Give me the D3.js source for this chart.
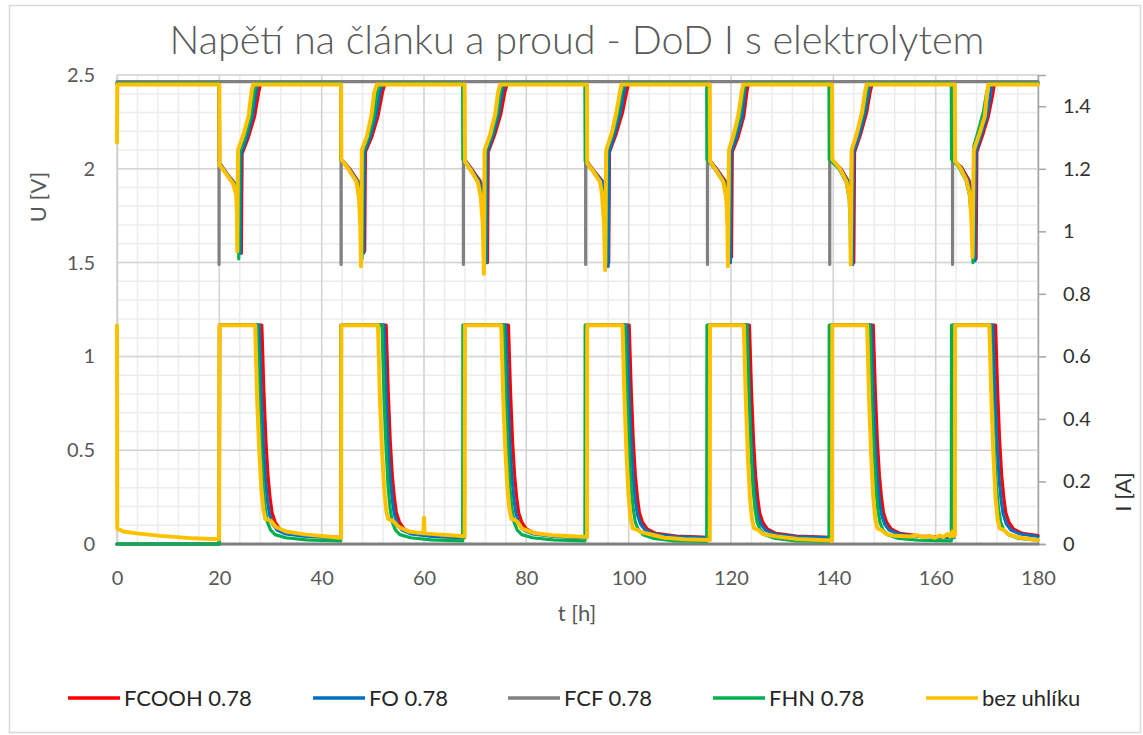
<!DOCTYPE html>
<html>
<head>
<meta charset="utf-8">
<script src="https://cdn.jsdelivr.net/npm/d3@7"></script>
<style>
  body { margin: 0; background: #fff; }
  text { font-family: Lato, "Open Sans", sans-serif; }
</style>
</head>
<body>
<svg id="chart" width="1143" height="735"></svg>
<script>
// ---- data ----
const seriesNames = ["FCOOH 0.78", "FO 0.78", "FCF 0.78", "FHN 0.78", "bez uhlíku"];
const xTicks = [0, 20, 40, 60, 80, 100, 120, 140, 160, 180];
const uTicks = [0, 0.5, 1, 1.5, 2, 2.5];
const iTicks = [0, 0.2, 0.4, 0.6, 0.8, 1, 1.2, 1.4];

// voltage [t h, U V]
const uFcooh = [[0, 2.455],
  [20.0, 2.455], [20.05, 2.03], [21.6, 1.97], [23.1, 1.92], [23.9, 1.86], [24.15, 1.72], [24.3, 1.55], [24.45, 2.08], [25.7, 2.17], [26.9, 2.28], [27.7, 2.41], [28.1, 2.455],
  [43.8, 2.455], [43.85, 2.05], [45.5, 2.0], [47.2, 1.93], [47.9, 1.84], [48.2, 1.70], [48.4, 1.56], [48.55, 2.09], [49.8, 2.17], [51.0, 2.28], [51.9, 2.41], [52.4, 2.455],
  [67.85, 2.455], [67.9, 2.05], [69.3, 2.0], [71.1, 1.93], [71.8, 1.85], [72.2, 1.70], [72.4, 1.50], [72.55, 2.09], [73.8, 2.18], [75.0, 2.29], [75.8, 2.41], [76.3, 2.455],
  [91.75, 2.455], [91.8, 2.04], [93.2, 1.99], [95.0, 1.93], [95.6, 1.86], [95.9, 1.70], [96.1, 1.50], [96.25, 2.09], [97.6, 2.19], [98.8, 2.30], [99.6, 2.41], [100.0, 2.455],
  [115.65, 2.455], [115.7, 2.05], [117.2, 2.0], [119.0, 1.93], [119.6, 1.84], [119.9, 1.70], [120.1, 1.53], [120.25, 2.09], [121.4, 2.17], [122.5, 2.28], [123.1, 2.41], [123.4, 2.455],
  [139.55, 2.455], [139.6, 2.05], [141.5, 2.0], [143.0, 1.93], [143.7, 1.84], [143.9, 1.70], [144.0, 1.50], [144.15, 2.09], [145.4, 2.19], [146.5, 2.30], [147.2, 2.41], [147.6, 2.455],
  [163.55, 2.455], [163.6, 2.04], [165.0, 2.01], [166.5, 1.94], [167.2, 1.86], [167.7, 1.70], [167.9, 1.52], [168.05, 2.09], [169.3, 2.19], [170.3, 2.28], [171.1, 2.39], [171.5, 2.455],
  [180, 2.455]];

const uFo = [[0, 2.455],
  [20.0, 2.455], [20.05, 2.03], [21.5, 1.97], [23.0, 1.92], [23.7, 1.86], [23.95, 1.72], [24.1, 1.55], [24.25, 2.08], [25.4, 2.17], [26.5, 2.28], [27.2, 2.41], [27.6, 2.455],
  [43.8, 2.455], [43.85, 2.05], [45.4, 2.0], [47.1, 1.93], [47.7, 1.84], [48.0, 1.70], [48.2, 1.55], [48.35, 2.09], [49.5, 2.17], [50.6, 2.28], [51.4, 2.41], [52.0, 2.455],
  [67.85, 2.455], [67.9, 2.05], [69.2, 2.0], [70.9, 1.93], [71.6, 1.85], [72.0, 1.70], [72.2, 1.50], [72.35, 2.09], [73.5, 2.18], [74.6, 2.29], [75.3, 2.41], [75.8, 2.455],
  [91.75, 2.455], [91.8, 2.04], [93.1, 1.99], [94.9, 1.93], [95.4, 1.86], [95.8, 1.70], [96.0, 1.48], [96.15, 2.09], [97.3, 2.19], [98.4, 2.30], [99.1, 2.41], [99.5, 2.455],
  [115.65, 2.455], [115.7, 2.05], [117.1, 2.0], [118.8, 1.93], [119.4, 1.84], [119.7, 1.70], [119.9, 1.50], [120.05, 2.09], [121.1, 2.17], [122.2, 2.28], [122.7, 2.41], [123.0, 2.455],
  [139.55, 2.455], [139.6, 2.05], [141.4, 2.0], [142.9, 1.93], [143.5, 1.84], [143.7, 1.70], [143.8, 1.49], [143.95, 2.09], [145.2, 2.19], [146.2, 2.30], [146.9, 2.41], [147.2, 2.455],
  [163.55, 2.455], [163.6, 2.04], [164.9, 2.01], [166.3, 1.94], [167.0, 1.86], [167.5, 1.70], [167.7, 1.51], [167.85, 2.09], [169.0, 2.19], [170.0, 2.28], [170.7, 2.39], [171.0, 2.455],
  [180, 2.455]];

const uFcf = [[0, 2.465],
  [19.93, 2.465], [19.95, 1.49], [19.97, 2.465],
  [43.78, 2.465], [43.8, 1.49], [43.82, 2.465],
  [67.68, 2.465], [67.7, 1.49], [67.72, 2.465],
  [91.58, 2.465], [91.6, 1.49], [91.62, 2.465],
  [115.38, 2.465], [115.4, 1.49], [115.42, 2.465],
  [139.28, 2.465], [139.3, 1.49], [139.32, 2.465],
  [163.28, 2.465], [163.3, 1.49], [163.32, 2.465],
  [180, 2.465]];

const uFhn = [[0, 2.455],
  [19.95, 2.455], [20.0, 2.03], [21.5, 1.97], [22.9, 1.92], [23.5, 1.86], [23.7, 1.72], [23.8, 1.52], [23.95, 2.09], [25.0, 2.17], [26.1, 2.28], [26.8, 2.41], [27.1, 2.455],
  [43.7, 2.455], [43.75, 2.05], [45.2, 2.0], [46.9, 1.93], [47.5, 1.84], [47.75, 1.70], [47.9, 1.52], [48.05, 2.09], [49.1, 2.17], [50.2, 2.28], [50.9, 2.41], [51.5, 2.455],
  [67.55, 2.455], [67.6, 2.05], [68.9, 2.0], [70.6, 1.93], [71.3, 1.85], [71.7, 1.70], [71.9, 1.50], [72.05, 2.10], [73.2, 2.18], [74.2, 2.29], [74.9, 2.41], [75.3, 2.455],
  [91.45, 2.455], [91.5, 2.04], [92.9, 1.99], [94.5, 1.93], [95.0, 1.86], [95.4, 1.70], [95.6, 1.50], [95.75, 2.10], [96.9, 2.19], [97.9, 2.30], [98.6, 2.41], [99.0, 2.455],
  [115.25, 2.455], [115.3, 2.05], [116.8, 2.0], [118.5, 1.93], [119.1, 1.84], [119.35, 1.70], [119.5, 1.50], [119.65, 2.10], [120.6, 2.17], [121.7, 2.28], [122.4, 2.41], [122.8, 2.455],
  [139.15, 2.455], [139.2, 2.05], [141.1, 2.0], [142.5, 1.93], [143.1, 1.84], [143.3, 1.70], [143.4, 1.49], [143.55, 2.10], [144.7, 2.19], [145.8, 2.30], [146.5, 2.41], [146.8, 2.455],
  [163.05, 2.455], [163.1, 2.05], [164.5, 2.01], [165.9, 1.94], [166.6, 1.86], [167.1, 1.70], [167.3, 1.50], [167.45, 2.12], [168.4, 2.21], [169.3, 2.30], [170.0, 2.41], [170.4, 2.455],
  [180, 2.455]];

const uBez = [[0, 2.14], [0.05, 2.45],
  [20.0, 2.45], [20.05, 2.02], [21.4, 1.97], [22.7, 1.92], [23.3, 1.86], [23.45, 1.75], [23.5, 1.56], [23.65, 2.10], [24.7, 2.18], [25.7, 2.28], [26.3, 2.41], [26.6, 2.45],
  [43.8, 2.45], [43.85, 2.05], [45.2, 2.0], [46.8, 1.93], [47.3, 1.84], [47.55, 1.70], [47.7, 1.48], [47.85, 2.10], [48.8, 2.17], [49.7, 2.28], [50.3, 2.41], [50.8, 2.45],
  [67.95, 2.45], [68.0, 2.04], [69.0, 2.0], [70.5, 1.93], [71.1, 1.85], [71.5, 1.70], [71.7, 1.44], [71.85, 2.10], [72.9, 2.18], [73.9, 2.29], [74.5, 2.41], [74.9, 2.45],
  [91.85, 2.45], [91.9, 2.03], [93.0, 1.99], [94.4, 1.93], [94.8, 1.86], [95.2, 1.70], [95.4, 1.46], [95.6, 2.10], [96.7, 2.19], [97.6, 2.30], [98.3, 2.41], [98.6, 2.45],
  [115.85, 2.45], [115.9, 2.04], [116.9, 2.0], [118.5, 1.93], [119.1, 1.84], [119.3, 1.70], [119.4, 1.48], [119.6, 2.10], [120.4, 2.17], [121.4, 2.28], [122.1, 2.41], [122.4, 2.45],
  [139.75, 2.45], [139.8, 2.05], [141.3, 2.0], [142.6, 1.93], [143.2, 1.84], [143.35, 1.70], [143.4, 1.49], [143.6, 2.10], [144.6, 2.19], [145.6, 2.30], [146.2, 2.41], [146.5, 2.45],
  [163.75, 2.45], [163.8, 2.04], [164.7, 2.01], [166.0, 1.94], [166.7, 1.86], [167.0, 1.72], [167.2, 1.53], [167.45, 2.10], [168.6, 2.19], [169.6, 2.28], [170.0, 2.39], [170.3, 2.45],
  [180, 2.45]];

// current [t h, I A]
const iFcooh = [[0, 0], [20.0, 0],
  [20.05, 0.70], [28.3, 0.70], [28.7, 0.49], [29.1, 0.33], [29.5, 0.22], [29.9, 0.15], [30.3, 0.10], [30.9, 0.07], [31.8, 0.048], [33.5, 0.034], [37.5, 0.025], [43.8, 0.021],
  [43.85, 0.70], [52.6, 0.70], [53.0, 0.49], [53.4, 0.33], [53.8, 0.22], [54.2, 0.15], [54.6, 0.10], [55.2, 0.07], [56.1, 0.048], [57.8, 0.034], [61.8, 0.025], [67.85, 0.021],
  [67.9, 0.70], [76.5, 0.70], [76.9, 0.49], [77.3, 0.33], [77.7, 0.22], [78.1, 0.15], [78.5, 0.10], [79.1, 0.07], [80.0, 0.048], [81.7, 0.034], [85.7, 0.025], [91.75, 0.021],
  [91.8, 0.70], [100.1, 0.70], [100.5, 0.49], [100.9, 0.33], [101.3, 0.22], [101.7, 0.15], [102.1, 0.10], [102.7, 0.07], [103.6, 0.048], [105.3, 0.034], [109.3, 0.025], [115.65, 0.021],
  [115.7, 0.70], [123.6, 0.70], [124.0, 0.49], [124.4, 0.33], [124.8, 0.22], [125.2, 0.15], [125.6, 0.10], [126.2, 0.07], [127.1, 0.048], [128.8, 0.034], [132.8, 0.025], [139.55, 0.021],
  [139.6, 0.70], [147.8, 0.70], [148.2, 0.49], [148.6, 0.33], [149.0, 0.22], [149.4, 0.15], [149.8, 0.10], [150.4, 0.07], [151.3, 0.048], [153.0, 0.034], [157.0, 0.025], [163.55, 0.021],
  [163.6, 0.70], [171.7, 0.70], [172.1, 0.49], [172.5, 0.33], [172.9, 0.22], [173.3, 0.15], [173.7, 0.10], [174.3, 0.07], [175.2, 0.048], [176.9, 0.034], [180, 0.027]];

const iFo = [[0, 0], [20.0, 0],
  [20.05, 0.70], [27.8, 0.70], [28.2, 0.48], [28.6, 0.32], [29.0, 0.21], [29.4, 0.14], [29.8, 0.095], [30.4, 0.065], [31.3, 0.045], [33.0, 0.032], [37.0, 0.024], [43.8, 0.02],
  [43.85, 0.70], [52.2, 0.70], [52.6, 0.48], [53.0, 0.32], [53.4, 0.21], [53.8, 0.14], [54.2, 0.095], [54.8, 0.065], [55.7, 0.045], [57.5, 0.032], [61.5, 0.024], [67.85, 0.02],
  [67.9, 0.70], [76.0, 0.70], [76.4, 0.48], [76.8, 0.32], [77.2, 0.21], [77.6, 0.14], [78.0, 0.095], [78.6, 0.065], [79.5, 0.045], [81.3, 0.032], [85.3, 0.024], [91.75, 0.02],
  [91.8, 0.70], [99.7, 0.70], [100.1, 0.48], [100.5, 0.32], [100.9, 0.21], [101.3, 0.14], [101.7, 0.095], [102.3, 0.065], [103.2, 0.045], [105.0, 0.032], [109.0, 0.024], [115.65, 0.02],
  [115.7, 0.70], [123.2, 0.70], [123.6, 0.48], [124.0, 0.32], [124.4, 0.21], [124.8, 0.14], [125.2, 0.095], [125.8, 0.065], [126.7, 0.045], [128.5, 0.032], [132.5, 0.024], [139.55, 0.02],
  [139.6, 0.70], [147.4, 0.70], [147.8, 0.48], [148.2, 0.32], [148.6, 0.21], [149.0, 0.14], [149.4, 0.095], [150.0, 0.065], [150.9, 0.045], [152.7, 0.032], [156.7, 0.024], [163.55, 0.02],
  [163.6, 0.70], [171.2, 0.70], [171.6, 0.48], [172.0, 0.32], [172.4, 0.21], [172.8, 0.14], [173.2, 0.095], [173.8, 0.065], [174.7, 0.045], [176.5, 0.032], [180, 0.024]];

const iFcf = [[0, 0], [180, 0]];

const iFhn = [[0, 0], [19.95, 0],
  [20.0, 0.70], [27.4, 0.70], [27.8, 0.46], [28.2, 0.30], [28.6, 0.18], [29.0, 0.11], [29.4, 0.07], [30.0, 0.045], [30.9, 0.03], [33.0, 0.02], [37.0, 0.013], [43.7, 0.01],
  [43.75, 0.70], [51.8, 0.70], [52.2, 0.46], [52.6, 0.30], [53.0, 0.18], [53.4, 0.11], [53.8, 0.07], [54.4, 0.045], [55.3, 0.03], [57.4, 0.02], [61.4, 0.013], [67.55, 0.01],
  [67.6, 0.70], [75.6, 0.70], [76.0, 0.46], [76.4, 0.30], [76.8, 0.18], [77.2, 0.11], [77.6, 0.07], [78.2, 0.045], [79.1, 0.03], [81.2, 0.02], [85.2, 0.013], [91.45, 0.01],
  [91.5, 0.70], [99.3, 0.70], [99.7, 0.46], [100.1, 0.30], [100.5, 0.18], [100.9, 0.11], [101.3, 0.07], [101.9, 0.045], [102.8, 0.03], [104.9, 0.018], [108.9, 0.01], [115.25, 0.008],
  [115.3, 0.70], [123.1, 0.70], [123.5, 0.46], [123.9, 0.30], [124.3, 0.18], [124.7, 0.11], [125.1, 0.07], [125.7, 0.045], [126.6, 0.03], [128.7, 0.018], [132.7, 0.01], [139.15, 0.008],
  [139.2, 0.70], [147.1, 0.70], [147.5, 0.46], [147.9, 0.30], [148.3, 0.18], [148.7, 0.11], [149.1, 0.07], [149.7, 0.045], [150.6, 0.03], [152.7, 0.018], [156.7, 0.012], [163.05, 0.01],
  [163.1, 0.70], [170.7, 0.70], [171.1, 0.46], [171.5, 0.30], [171.9, 0.18], [172.3, 0.11], [172.7, 0.07], [173.3, 0.045], [174.2, 0.03], [176.3, 0.018], [180, 0.012]];

const iBez = [[0, 0.70], [0.05, 0.05], [1.2, 0.04], [3.9, 0.034], [8.5, 0.026], [15.0, 0.018], [19.95, 0.015],
  [20.05, 0.70], [27.0, 0.70], [27.4, 0.46], [27.8, 0.30], [28.2, 0.18], [28.6, 0.11], [29.0, 0.08], [29.6, 0.078], [30.2, 0.072], [31.0, 0.055], [33.0, 0.04], [37.0, 0.03], [43.8, 0.02],
  [43.85, 0.70], [51.0, 0.70], [51.4, 0.46], [51.8, 0.30], [52.2, 0.18], [52.6, 0.11], [53.0, 0.08], [53.6, 0.076], [54.2, 0.07], [55.0, 0.055], [57.0, 0.04], [59.9, 0.034], [60.0, 0.085], [60.1, 0.034], [63.0, 0.03], [67.95, 0.025],
  [68.0, 0.70], [75.1, 0.70], [75.5, 0.46], [75.9, 0.30], [76.3, 0.18], [76.7, 0.11], [77.1, 0.08], [77.7, 0.077], [78.3, 0.07], [79.1, 0.05], [81.5, 0.035], [85.0, 0.028], [91.85, 0.022],
  [91.9, 0.70], [98.8, 0.70], [99.2, 0.46], [99.6, 0.28], [100.0, 0.15], [100.4, 0.08], [100.8, 0.05], [101.6, 0.046], [102.4, 0.038], [104.0, 0.032], [107.0, 0.02], [111.0, 0.015], [115.85, 0.013],
  [115.9, 0.70], [122.5, 0.70], [122.9, 0.46], [123.3, 0.28], [123.7, 0.15], [124.1, 0.08], [124.5, 0.05], [125.3, 0.045], [126.2, 0.032], [129.0, 0.024], [133.0, 0.016], [139.75, 0.011],
  [139.8, 0.70], [146.6, 0.70], [147.0, 0.46], [147.4, 0.28], [147.8, 0.15], [148.2, 0.08], [148.6, 0.05], [149.4, 0.045], [150.3, 0.032], [152.0, 0.026], [155.0, 0.024], [156.5, 0.028], [157.5, 0.021], [158.7, 0.026], [159.8, 0.02], [160.8, 0.027], [161.5, 0.022], [162.3, 0.032], [162.8, 0.024], [163.3, 0.04], [163.5, 0.025], [163.75, 0.03],
  [163.8, 0.70], [170.5, 0.70], [170.9, 0.46], [171.3, 0.28], [171.7, 0.15], [172.1, 0.08], [172.5, 0.05], [173.3, 0.045], [174.3, 0.03], [176.5, 0.02], [180, 0.013]];

const colors = ["#ff0000", "#0070c0", "#808080", "#00b050", "#ffc000"];
const uData = [uFcooh, uFo, uFcf, uFhn, uBez];
const iData = [iFcooh, iFo, iFcf, iFhn, iBez];

// ---- layout ----
const svg = d3.select("#chart");
const plot = {left: 117, right: 1038, top: 75, bottom: 544};

const x = d3.scaleLinear().domain([0, 180]).range([plot.left, plot.right]);
const yU = d3.scaleLinear().domain([0, 2.5]).range([plot.bottom, plot.top]);
const yI = d3.scaleLinear().domain([0, 1.5]).range([plot.bottom, plot.top]);

svg.append("rect").attr("width", 1143).attr("height", 735).attr("fill", "#fff");
svg.append("rect")
    .attr("x", 9.5).attr("y", 5.5).attr("width", 1131).attr("height", 727)
    .attr("fill", "none").attr("stroke", "#d9d9d9").attr("stroke-width", 1.5);

// title, fitted to the width it has in the picture
const title = svg.append("text")
    .attr("x", 577).attr("y", 54)
    .attr("text-anchor", "middle")
    .attr("fill", "#595959")
    .attr("font-weight", 300)
    .attr("font-size", 36)
    .text("Napětí na článku a proud - DoD I s elektrolytem");
const tw = title.node().getComputedTextLength();
title.attr("font-size", 36 * 815 / tw);

// grid
const grid = svg.append("g");
grid.selectAll(".vmin").data(d3.range(0, 181, 4)).enter().append("line")
    .attr("x1", d => x(d)).attr("x2", d => x(d))
    .attr("y1", plot.top).attr("y2", plot.bottom)
    .attr("stroke", "#ececec").attr("stroke-width", 1.5);
grid.selectAll(".hmin").data(d3.range(0, 2.501, 0.1)).enter().append("line")
    .attr("x1", plot.left).attr("x2", plot.right)
    .attr("y1", d => yU(d)).attr("y2", d => yU(d))
    .attr("stroke", "#ececec").attr("stroke-width", 1.5);
grid.selectAll(".vmaj").data(xTicks).enter().append("line")
    .attr("x1", d => x(d)).attr("x2", d => x(d))
    .attr("y1", plot.top).attr("y2", plot.bottom)
    .attr("stroke", "#d4d4d4").attr("stroke-width", 1.5);
grid.selectAll(".hmaj").data(uTicks).enter().append("line")
    .attr("x1", plot.left).attr("x2", plot.right)
    .attr("y1", d => yU(d)).attr("y2", d => yU(d))
    .attr("stroke", "#d4d4d4").attr("stroke-width", 1.5);

// axes
const fmt = d => String(+d.toFixed(1));

const axL = svg.append("g")
    .attr("transform", `translate(${plot.left},0)`)
    .call(d3.axisLeft(yU).tickValues(uTicks).tickFormat(fmt).tickSize(0).tickPadding(22));
axL.select(".domain").attr("stroke", "#d0d0d0").attr("stroke-width", 1.5);
axL.selectAll("text").attr("font-size", 20).attr("fill", "#595959").attr("font-family", "Lato");

const axB = svg.append("g")
    .attr("transform", `translate(0,${plot.bottom})`)
    .call(d3.axisBottom(x).tickValues(xTicks).tickSize(0).tickPadding(27));
axB.select(".domain").attr("stroke", "#bfbfbf").attr("stroke-width", 1.5);
axB.selectAll("text").attr("font-size", 20).attr("fill", "#595959").attr("font-family", "Lato");

const axR = svg.append("g")
    .attr("transform", `translate(${plot.right},0)`)
    .call(d3.axisRight(yI).tickValues(iTicks).tickFormat(fmt).tickSize(8).tickPadding(17));
axR.select(".domain").attr("stroke", "#a6a6a6").attr("stroke-width", 1.5);
axR.selectAll(".tick line").attr("stroke", "#a6a6a6").attr("stroke-width", 1.5);
axR.selectAll("text").attr("font-size", 20).attr("fill", "#333").attr("font-family", "Lato");

// axis titles
svg.append("text").attr("x", 577).attr("y", 613).attr("dy", "0.35em")
    .attr("text-anchor", "middle").attr("font-size", 22).attr("fill", "#595959").text("t [h]");
svg.append("text").attr("transform", "translate(38,197) rotate(-90)").attr("dy", "0.35em")
    .attr("text-anchor", "middle").attr("font-size", 22).attr("fill", "#595959").text("U [V]");
svg.append("text").attr("transform", "translate(1123,492) rotate(-90)").attr("dy", "0.35em")
    .attr("text-anchor", "middle").attr("font-size", 22).attr("fill", "#333").text("I [A]");

// series
const lineU = d3.line().x(d => x(d[0])).y(d => yU(d[1]));
const lineI = d3.line().x(d => x(d[0])).y(d => yI(d[1]));

const series = svg.append("g").attr("fill", "none")
    .attr("stroke-linejoin", "round").attr("stroke-linecap", "round");
seriesNames.forEach((name, k) => {
    const w = k === 4 ? 4 : 3.2;
    series.append("path").datum(uData[k]).attr("d", lineU)
        .attr("stroke", colors[k]).attr("stroke-width", w);
    series.append("path").datum(iData[k]).attr("d", lineI)
        .attr("stroke", colors[k]).attr("stroke-width", w);
});

// legend
const legendX = [68, 313, 508, 713, 926];
const legend = svg.append("g");
seriesNames.forEach((name, k) => {
    const g = legend.append("g").attr("transform", `translate(${legendX[k]},698)`);
    g.append("line").attr("x1", 0).attr("x2", 52).attr("y1", 0).attr("y2", 0)
        .attr("stroke", colors[k]).attr("stroke-width", 3.5);
    g.append("text").attr("x", 56).attr("dy", "0.35em")
        .attr("font-size", 22).attr("fill", "#262626").text(name);
});
</script>
</body>
</html>
